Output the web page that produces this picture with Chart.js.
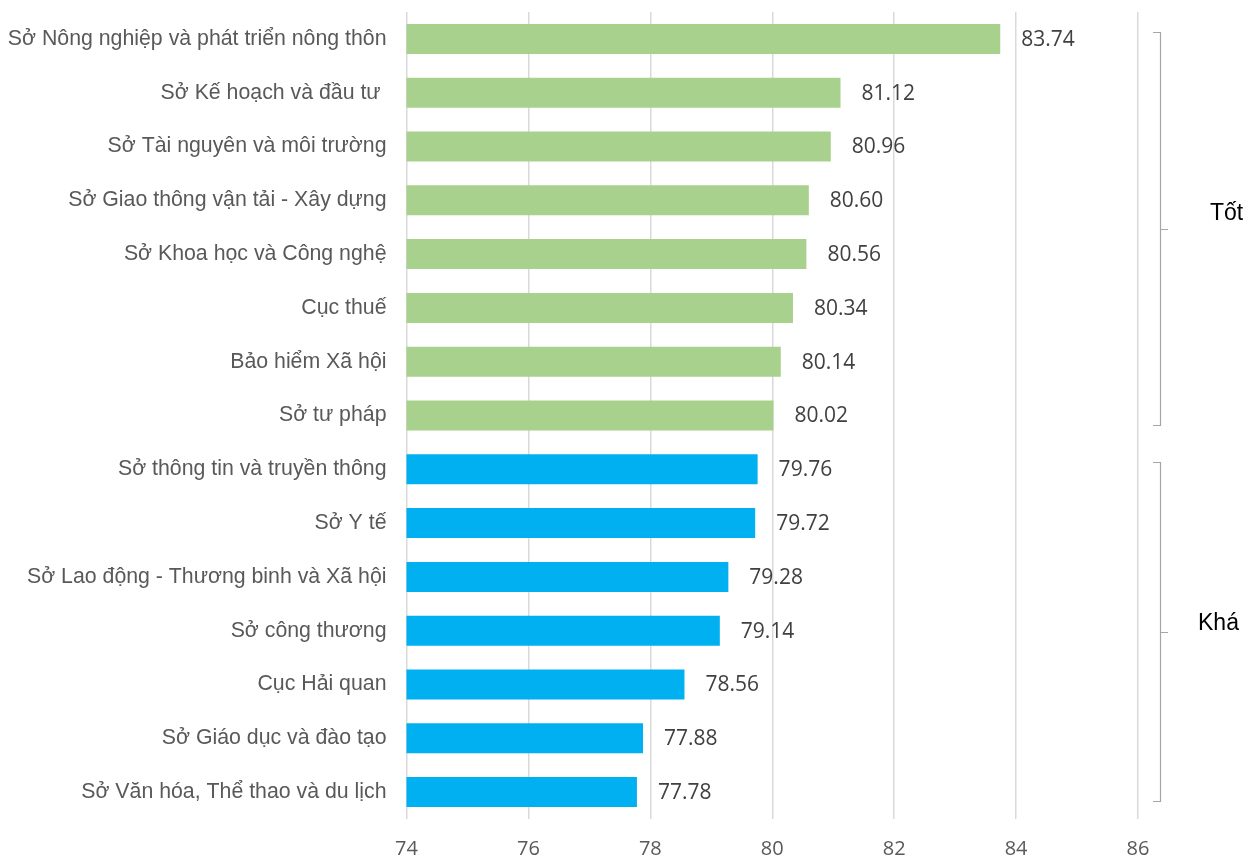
<!DOCTYPE html>
<html><head><meta charset="utf-8">
<script src="https://cdn.jsdelivr.net/npm/chart.js@4/dist/chart.umd.min.js"></script>
<style>html,body{margin:0;padding:0;background:#fff}#wrap{width:1249px;height:859px}</style>
</head><body><div id="wrap"><canvas id="c" width="1249" height="859"></canvas></div>
<script>
const categories = ["Sở Nông nghiệp và phát triển nông thôn","Sở Kế hoạch và đầu tư ","Sở Tài nguyên và môi trường","Sở Giao thông vận tải - Xây dựng","Sở Khoa học và Công nghệ","Cục thuế","Bảo hiểm Xã hội","Sở tư pháp","Sở thông tin và truyền thông","Sở Y tế","Sở Lao động - Thương binh và Xã hội","Sở công thương","Cục Hải quan","Sở Giáo dục và đào tạo","Sở Văn hóa, Thể thao và du lịch"];
const values = [83.74,81.12,80.96,80.60,80.56,80.34,80.14,80.02,79.76,79.72,79.28,79.14,78.56,77.88,77.78];
const groups = ["Tốt","Tốt","Tốt","Tốt","Tốt","Tốt","Tốt","Tốt","Khá","Khá","Khá","Khá","Khá","Khá","Khá"];
const groupNames = ["Tốt","Khá"];
const groupColors = {"Tốt":"#A9D18E","Khá":"#00B0F0"};
const xTicks = [74,76,78,80,82,84,86];

const labelPlugin = {
  id:'vlabels',
  afterDatasetsDraw(chart){
    const ctx = chart.ctx; const meta = chart.getDatasetMeta(0);
    ctx.save(); ctx.font = '21px "Open Sans"'; ctx.fillStyle = '#404040';
    ctx.textAlign='left'; ctx.textBaseline='middle';
    meta.data.forEach((b,i)=>{ ctx.fillText(values[i].toFixed(2), b.x+21, b.y+1); });
    ctx.restore();
  }
};
const groupLabelPos = {"Tốt":{x:1210,dy:-16},"Khá":{x:1198,dy:-9}};
const bracketPlugin = {
  id:'brackets',
  afterDraw(chart){
    const ctx = chart.ctx; const y = chart.scales.y;
    ctx.save(); ctx.strokeStyle='#a6a6a6'; ctx.lineWidth=1.2;
    groupNames.forEach(g=>{
      const idx = groups.map((v,i)=>v===g?i:-1).filter(i=>i>=0);
      const top = Math.round(y.getPixelForValue(idx[0]) - 7)+0.5;
      const bot = Math.round(y.getPixelForValue(idx[idx.length-1]) + 9)+0.5;
      const x = 1160.5, xl = 1153, xr = 1168;
      const mid = Math.round((top+bot)/2)+0.5;
      ctx.beginPath();
      ctx.moveTo(xl, top); ctx.lineTo(x, top); ctx.lineTo(x, bot); ctx.lineTo(xl, bot);
      ctx.moveTo(x, mid); ctx.lineTo(xr, mid);
      ctx.stroke();
      const p = groupLabelPos[g];
      ctx.font = '23px "Liberation Sans"'; ctx.fillStyle='#000'; ctx.textAlign='left'; ctx.textBaseline='middle';
      ctx.fillText(g, p.x, mid + p.dy);
    });
    ctx.restore();
  }
};

new Chart(document.getElementById('c'), {
  type:'bar',
  data:{labels:categories, datasets:[{data:values, backgroundColor:groups.map(g=>groupColors[g]), categoryPercentage:0.558, barPercentage:1}]},
  options:{
    indexAxis:'y', responsive:false, animation:false,
    layout:{padding:{top:12,right:111,bottom:0,left:0}},
    plugins:{legend:{display:false}, tooltip:{enabled:false}},
    scales:{
      x:{min:74,max:86,
        afterBuildTicks(s){ s.ticks = xTicks.map(v=>({value:v})); },
        grid:{color:'#d9d9d9', lineWidth:1.5, drawTicks:false},
        border:{display:false},
        ticks:{font:{family:'"Open Sans"',size:20}, color:'#595959', padding:18},
        afterFit(s){ s.height = 40; s.paddingLeft = 0; s.paddingRight = 0; }
      },
      y:{
        grid:{display:false}, border:{display:false},
        ticks:{font:{family:'"Liberation Sans"',size:21.3}, color:'#595959', padding:12, autoSkip:false},
        afterFit(s){ s.width = 406.5; s.paddingTop = 0; s.paddingBottom = 0; }
      }
    }
  },
  plugins:[labelPlugin, bracketPlugin]
});
</script></body></html>
